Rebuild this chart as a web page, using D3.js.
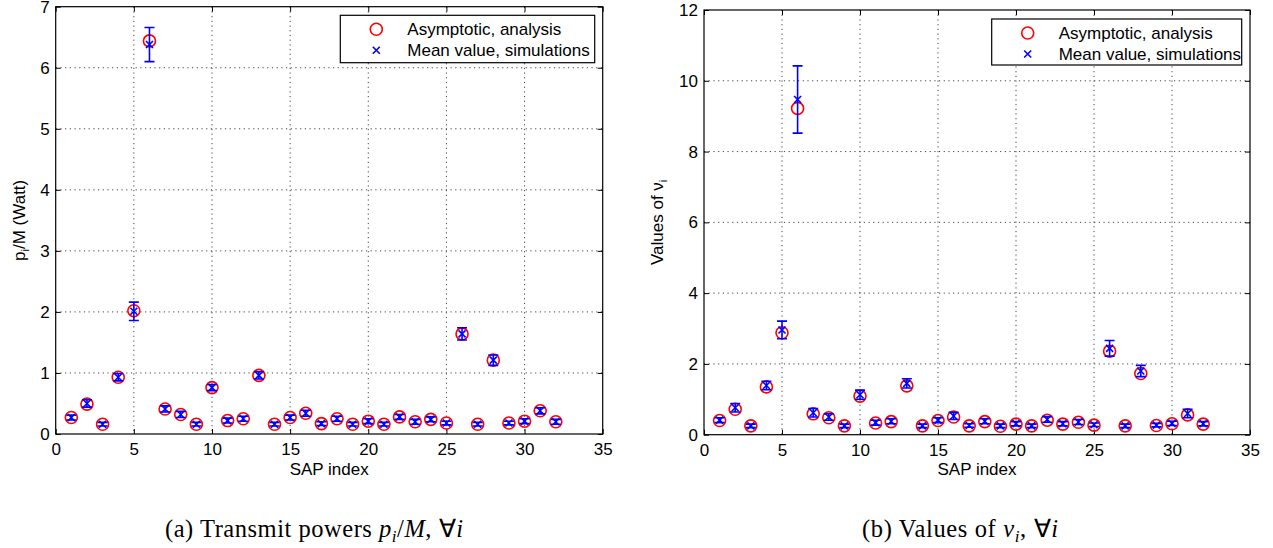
<!DOCTYPE html>
<html>
<head>
<meta charset="utf-8">
<script src="https://cdn.jsdelivr.net/npm/d3@7"></script>
<style>
body { margin: 0; background: #fff; }
svg text { font-family: "Liberation Sans", Arial, Helvetica, sans-serif; fill: #000; }
.caption { font-family: "Liberation Serif", "Times New Roman", serif; }
</style>
</head>
<body>
<svg id="chart" width="1273" height="548"></svg>
<script>
"use strict";

var sapIndex = [1, 2, 3, 4, 5, 6, 7, 8, 9, 10, 11, 12, 13, 14, 15, 16,
		17, 18, 19, 20, 21, 22, 23, 24, 25, 26, 27, 28, 29, 30, 31, 32],

    xTicks = [0, 5, 10, 15, 20, 25, 30, 35],
    powerTicks = [0, 1, 2, 3, 4, 5, 6, 7],
    nuTicks = [0, 2, 4, 6, 8, 10, 12],

    // (a) transmit powers p_i/M
    powerAnalysis = [0.27, 0.49, 0.16, 0.93, 2.02, 6.44, 0.41, 0.32, 0.16, 0.76, 0.22, 0.25, 0.96, 0.16, 0.27, 0.34,
		     0.17, 0.25, 0.16, 0.21, 0.16, 0.28, 0.20, 0.24, 0.18, 1.64, 0.16, 1.21, 0.18, 0.21, 0.38, 0.20],
    powerSimMean = [0.27, 0.50, 0.16, 0.93, 2.01, 6.38, 0.41, 0.32, 0.16, 0.76, 0.22, 0.25, 0.96, 0.16, 0.27, 0.34,
		    0.17, 0.25, 0.16, 0.21, 0.16, 0.28, 0.20, 0.24, 0.18, 1.64, 0.16, 1.21, 0.18, 0.21, 0.38, 0.20],
    powerSimErr = [0.04, 0.06, 0.03, 0.06, 0.15, 0.28, 0.05, 0.05, 0.03, 0.05, 0.04, 0.04, 0.06, 0.03, 0.04, 0.05,
		   0.03, 0.04, 0.03, 0.04, 0.03, 0.04, 0.04, 0.04, 0.03, 0.10, 0.03, 0.085, 0.03, 0.04, 0.05, 0.04],

    // (b) values of nu_i
    nuAnalysis = [0.40, 0.72, 0.25, 1.35, 2.88, 9.22, 0.59, 0.48, 0.25, 1.09, 0.33, 0.37, 1.38, 0.25, 0.40, 0.50,
		  0.25, 0.37, 0.24, 0.30, 0.25, 0.41, 0.30, 0.35, 0.27, 2.36, 0.25, 1.73, 0.26, 0.31, 0.56, 0.30],
    nuSimMean = [0.41, 0.76, 0.25, 1.39, 2.96, 9.47, 0.62, 0.50, 0.25, 1.13, 0.34, 0.38, 1.45, 0.25, 0.41, 0.53,
		 0.26, 0.38, 0.25, 0.31, 0.25, 0.43, 0.31, 0.36, 0.28, 2.44, 0.25, 1.80, 0.27, 0.32, 0.60, 0.31],
    nuSimErr = [0.07, 0.12, 0.05, 0.12, 0.25, 0.95, 0.12, 0.09, 0.05, 0.13, 0.07, 0.07, 0.13, 0.05, 0.07, 0.10,
		0.05, 0.07, 0.05, 0.06, 0.05, 0.08, 0.06, 0.07, 0.05, 0.22, 0.05, 0.16, 0.05, 0.06, 0.12, 0.06],

    legendLabels = ["Asymptotic, analysis", "Mean value, simulations"],

    fontSize = 17,
    tickLength = 5,
    capHalf = 5,
    circleRadius = 6,
    crossHalf = 3.5,
    red = "#ff0000",
    blue = "#0000ff",

    svg = d3.select("#chart");

var drawPanel = function(opts) {
    var x = d3.scaleLinear().domain([0, 35]).range([opts.left, opts.right]),
	y = d3.scaleLinear().domain([0, opts.yMax]).range([opts.bottom, opts.top]),
	g = svg.append("g"),
	points = sapIndex.map(function(s, i) {
	    return {
		sap: s,
		analysis: opts.analysis[i],
		mean: opts.mean[i],
		err: opts.err[i]
	    };
	});

    // dotted grid
    g.append("g")
	.selectAll("line.vgrid")
	.data(xTicks.slice(1, -1))
	.enter().append("line")
	.attr("x1", function(d) { return x(d); })
	.attr("x2", function(d) { return x(d); })
	.attr("y1", opts.top)
	.attr("y2", opts.bottom)
	.attr("stroke", "#444")
	.attr("stroke-width", 1)
	.attr("stroke-dasharray", "1.2,3.5");

    g.append("g")
	.selectAll("line.hgrid")
	.data(opts.yTicks.slice(1, -1))
	.enter().append("line")
	.attr("y1", function(d) { return y(d); })
	.attr("y2", function(d) { return y(d); })
	.attr("x1", opts.left)
	.attr("x2", opts.right)
	.attr("stroke", "#444")
	.attr("stroke-width", 1)
	.attr("stroke-dasharray", "1.2,3.5");

    // axes, ticks pointing inward on all four sides
    var styleAxis = function(sel) {
	sel.attr("font-size", fontSize).attr("font-family", null);
	sel.selectAll("path.domain").remove();
	sel.selectAll(".tick line").attr("stroke", "#000").attr("stroke-width", 1);
	sel.selectAll("text").attr("fill", "#000");
    };

    g.append("g")
	.attr("transform", "translate(0," + opts.bottom + ")")
	.call(d3.axisBottom(x).tickValues(xTicks).tickFormat(d3.format("d"))
	      .tickSize(-tickLength).tickPadding(9))
	.call(styleAxis);

    g.append("g")
	.attr("transform", "translate(0," + opts.top + ")")
	.call(d3.axisTop(x).tickValues(xTicks).tickSize(-tickLength).tickFormat(""))
	.call(styleAxis);

    g.append("g")
	.attr("transform", "translate(" + opts.left + ",0)")
	.call(d3.axisLeft(y).tickValues(opts.yTicks).tickFormat(d3.format("d"))
	      .tickSize(-tickLength).tickPadding(6))
	.call(styleAxis);

    g.append("g")
	.attr("transform", "translate(" + opts.right + ",0)")
	.call(d3.axisRight(y).tickValues(opts.yTicks).tickSize(-tickLength).tickFormat(""))
	.call(styleAxis);

    g.append("rect")
	.attr("x", opts.left)
	.attr("y", opts.top)
	.attr("width", opts.right - opts.left)
	.attr("height", opts.bottom - opts.top)
	.attr("fill", "none")
	.attr("stroke", "#000")
	.attr("stroke-width", 1.2);

    // analysis: red circles
    g.append("g")
	.selectAll("circle")
	.data(points)
	.enter().append("circle")
	.attr("cx", function(d) { return x(d.sap); })
	.attr("cy", function(d) { return y(d.analysis); })
	.attr("r", circleRadius)
	.attr("fill", "none")
	.attr("stroke", red)
	.attr("stroke-width", 1.6);

    // simulations: blue error bars and crosses
    var sim = g.append("g")
	    .selectAll("g")
	    .data(points)
	    .enter().append("g")
	    .attr("stroke", blue)
	    .attr("stroke-width", 1.6)
	    .attr("fill", "none");

    sim.append("path")
	.attr("d", function(d) {
	    var cx = x(d.sap),
		lo = y(d.mean - d.err),
		hi = y(d.mean + d.err);
	    return "M" + cx + "," + lo + "V" + hi +
		"M" + (cx - capHalf) + "," + hi + "H" + (cx + capHalf) +
		"M" + (cx - capHalf) + "," + lo + "H" + (cx + capHalf);
	});

    sim.append("path")
	.attr("d", function(d) {
	    var cx = x(d.sap),
		cy = y(d.mean);
	    return "M" + (cx - crossHalf) + "," + (cy - crossHalf) + "L" + (cx + crossHalf) + "," + (cy + crossHalf) +
		"M" + (cx - crossHalf) + "," + (cy + crossHalf) + "L" + (cx + crossHalf) + "," + (cy - crossHalf);
	});

    // legend
    var lg = g.append("g");
    lg.append("rect")
	.attr("x", opts.legend[0])
	.attr("y", opts.legend[1])
	.attr("width", opts.legend[2])
	.attr("height", opts.legend[3])
	.attr("fill", "#fff")
	.attr("stroke", "#000")
	.attr("stroke-width", 1.2);

    var mx = opts.legend[0] + 36,
	row1 = opts.legend[1] + 14,
	row2 = opts.legend[1] + 35;

    lg.append("circle")
	.attr("cx", mx)
	.attr("cy", row1)
	.attr("r", circleRadius)
	.attr("fill", "none")
	.attr("stroke", red)
	.attr("stroke-width", 1.6);

    lg.append("path")
	.attr("d", "M" + (mx - crossHalf) + "," + (row2 - crossHalf) + "L" + (mx + crossHalf) + "," + (row2 + crossHalf) +
	      "M" + (mx - crossHalf) + "," + (row2 + crossHalf) + "L" + (mx + crossHalf) + "," + (row2 - crossHalf))
	.attr("stroke", blue)
	.attr("stroke-width", 1.6);

    lg.selectAll("text")
	.data(legendLabels)
	.enter().append("text")
	.attr("x", opts.legend[0] + 67)
	.attr("y", function(d, i) { return (i === 0 ? row1 : row2) + 6; })
	.attr("font-size", fontSize)
	.text(function(d) { return d; });

    // x label
    g.append("text")
	.attr("x", (opts.left + opts.right) / 2)
	.attr("y", 475)
	.attr("text-anchor", "middle")
	.attr("font-size", fontSize)
	.text("SAP index");

    // y label
    var yl = g.append("text")
	    .attr("transform", "translate(" + opts.yLabelX + "," + ((opts.top + opts.bottom) / 2) + ") rotate(-90)")
	    .attr("text-anchor", "middle")
	    .attr("font-size", fontSize);
    yl.append("tspan").text(opts.yLabel[0]);
    yl.append("tspan").attr("dy", 4).attr("font-size", 11).text("i");
    yl.append("tspan").attr("dy", -4).text(opts.yLabel[1]);

    // caption
    var cap = svg.append("text")
	    .attr("class", "caption")
	    .attr("x", opts.caption[0])
	    .attr("y", 537)
	    .attr("font-size", 24.5)
	    .attr("textLength", opts.caption[1])
	    .attr("lengthAdjust", "spacing");
    opts.captionText(cap);
};

drawPanel({
    left: 55.7, right: 602.7, top: 6.7, bottom: 434,
    yMax: 7, yTicks: powerTicks,
    analysis: powerAnalysis, mean: powerSimMean, err: powerSimErr,
    legend: [340.3, 15.3, 254.4, 47.4],
    yLabel: ["p", "/M (Watt)"], yLabelX: 25,
    caption: [165, 298],
    captionText: function(t) {
	t.append("tspan").text("(a)  Transmit powers ");
	t.append("tspan").attr("font-style", "italic").text("p");
	t.append("tspan").attr("font-style", "italic").attr("dy", 5).attr("font-size", 17).text("i");
	t.append("tspan").attr("dy", -5).text("/");
	t.append("tspan").attr("font-style", "italic").text("M");
	t.append("tspan").text(", \u2200");
	t.append("tspan").attr("font-style", "italic").text("i");
    }
});

drawPanel({
    left: 704, right: 1250, top: 10, bottom: 434.7,
    yMax: 12, yTicks: nuTicks,
    analysis: nuAnalysis, mean: nuSimMean, err: nuSimErr,
    legend: [991.7, 19, 250, 46],
    yLabel: ["Values of \u03bd", ""], yLabelX: 663,
    caption: [862, 196],
    captionText: function(t) {
	t.append("tspan").text("(b)  Values of ");
	t.append("tspan").attr("font-style", "italic").text("\u03bd");
	t.append("tspan").attr("font-style", "italic").attr("dy", 5).attr("font-size", 17).text("i");
	t.append("tspan").attr("dy", -5).text(", \u2200");
	t.append("tspan").attr("font-style", "italic").text("i");
    }
});
</script>
</body>
</html>
